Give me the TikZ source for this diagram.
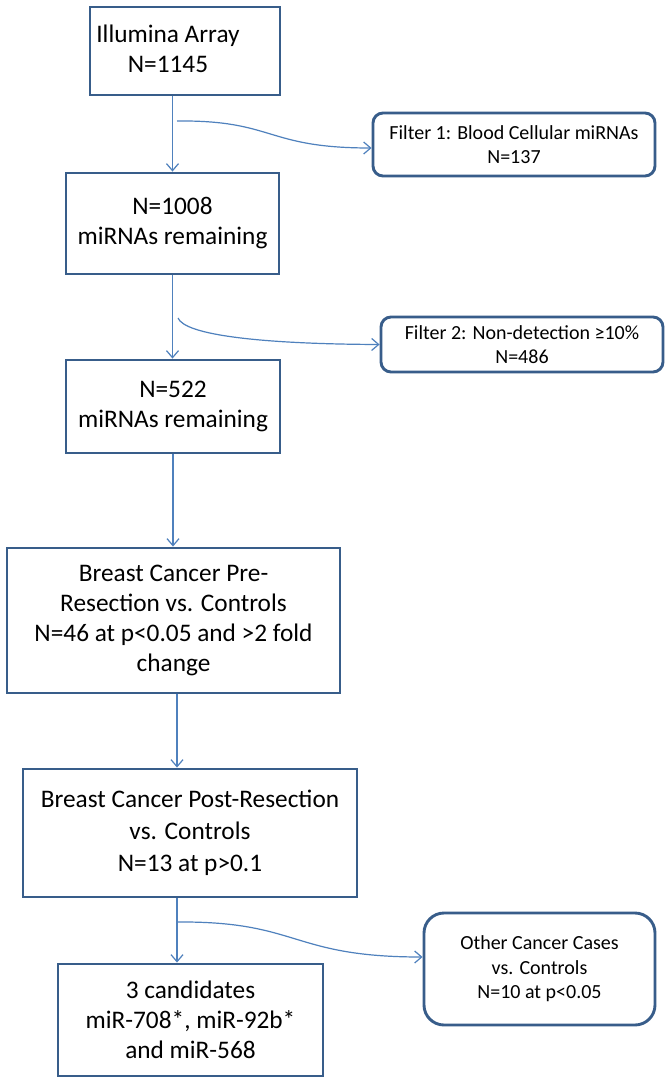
\documentclass[tikz,border=0pt]{standalone}
\usepackage{fontspec}
\setmainfont{Carlito}
\usepackage{tikz}
\usetikzlibrary{arrows.meta,shapes,positioning}

\definecolor{boxblue}{RGB}{56,93,138}
\definecolor{lineblue}{RGB}{79,129,189}

\begin{document}
\begin{tikzpicture}[x=1pt, y=-1pt,
		basic/.style  = {draw=boxblue, line width=2.9pt, rectangle, fill=white, inner sep=0pt, align=center},
		stepbox/.style = {basic, font=\fontsize{25.3}{30}\selectfont},
		filterbox/.style = {basic, rounded corners=10pt, font=\fontsize{20}{24}\selectfont},
		flow/.style = {->, draw=lineblue, line width=1.2pt},
		>={Straight Barb[length=7pt,width=12pt]}]
		
		\useasboundingbox[fill=white] (0,0) rectangle (670,1083);
		
		% Main chain of steps
		\node[stepbox, minimum width=190, minimum height=88] (illumina) at (185,51) {};
		\node[font=\fontsize{25.3}{30}\selectfont, align=center] (illuminatext) at (168,49) {Illumina Array\\N=1145};
		\node[stepbox, minimum width=213, minimum height=101] (mirna1008) at (172.5,223.5) {N=1008\\miRNAs remaining};
		\node[stepbox, minimum width=214, minimum height=93] (mirna522) at (173,406.5) {N=522\\miRNAs remaining};
		\node[stepbox, minimum width=333, minimum height=145] (pre) at (173.5,620.5) {Breast Cancer Pre-\\Resection vs. Controls\\N=46 at p\textless0.05 and \textgreater2 fold\\change};
		\node[stepbox, minimum width=334, minimum height=128, font=\fontsize{25.3}{32}\selectfont] (post) at (190,833) {Breast Cancer Post-Resection\\vs. Controls\\N=13 at p\textgreater0.1};
		\node[stepbox, minimum width=265, minimum height=112] (cand) at (190.5,1020) {3 candidates\\miR-708*, miR-92b*\\and miR-568};
		
		% Side boxes, what is filtered out
		\node[filterbox, minimum width=282, minimum height=63] (filter1) at (514,144.5) {Filter 1: Blood Cellular miRNAs\\N=137};
		\node[filterbox, minimum width=282, minimum height=55] (filter2) at (522,344.5) {Filter 2: Non-detection ≥10\%\\N=486};
		\node[filterbox, rounded corners=20pt, minimum width=231, minimum height=112, font=\fontsize{20}{24.5}\selectfont] (other) at (539.5,969) {Other Cancer Cases\\vs. Controls\\N=10 at p\textless0.05};
		
		% Arrows down the chain
		\draw[flow] (illumina.south -| mirna1008.north) -- (mirna1008.north);
		\draw[flow] (mirna1008.south) -- (mirna1008.south |- mirna522.north);
		\draw[flow] (mirna522.south) -- (mirna522.south |- pre.north);
		\draw[flow] ([xshift=3.5pt]pre.south) -- ([xshift=3.5pt]pre.south |- post.north);
		\draw[flow] ([xshift=-13pt]post.south) -- ([xshift=-13pt]post.south |- cand.north);
		
		% Curved arrows to the side boxes
		\coordinate (f1start) at (177,121);
		\coordinate (f2start) at (178,318);
		\coordinate (f3start) at (177,922);
		\draw[flow] (f1start) .. controls (275,120) and (265,148) .. ([yshift=-3.5pt]filter1.west);
		\draw[flow] (f2start) .. controls (185,335) and (260,344) .. (filter2.west);
		\draw[flow] (f3start) .. controls (300,921) and (290,957) .. ([yshift=12pt]other.west);
		
	\end{tikzpicture}
\end{document}
